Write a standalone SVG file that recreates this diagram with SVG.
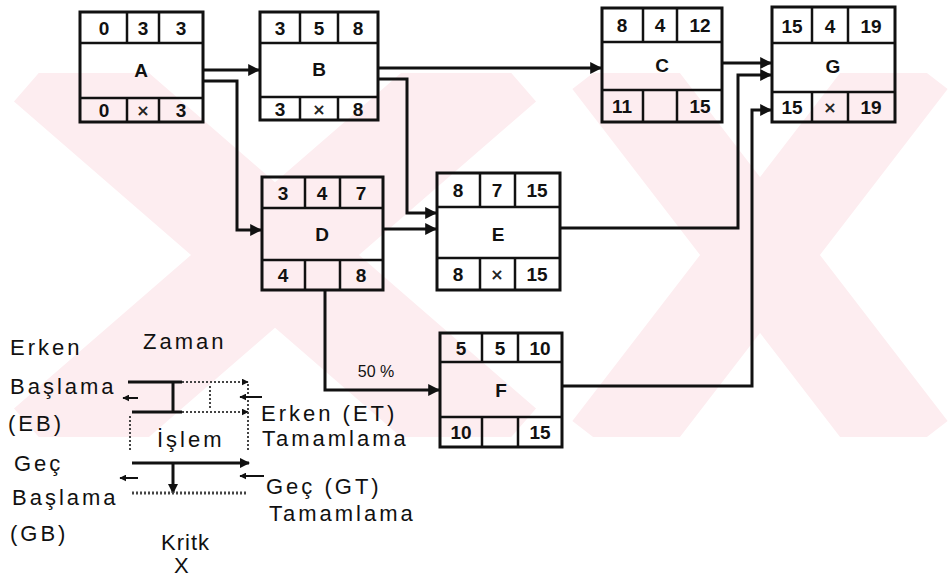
<svg xmlns="http://www.w3.org/2000/svg" width="952" height="579" viewBox="0 0 952 579">
<style>
.box{fill:none;stroke:#111;stroke-width:3}
.div{stroke:#111;stroke-width:2.5}
.num{font-family:"Liberation Sans",Arial,sans-serif;font-weight:bold;font-size:19px;fill:#111;text-anchor:middle}
.lbl{font-family:"Liberation Sans",Arial,sans-serif;font-weight:bold;font-size:19px;fill:#111;text-anchor:middle}
.crit{font-family:"DejaVu Sans",sans-serif;font-weight:bold;font-size:16px;fill:#222;text-anchor:middle}
.conn{fill:none;stroke:#111;stroke-width:3}
.leg{font-family:"Liberation Sans",Arial,sans-serif;font-size:22px;fill:#111;letter-spacing:3px}
.ln{stroke:#111;stroke-width:3;fill:none}
.dl{stroke:#444;stroke-width:2;stroke-dasharray:2 2;fill:none}
.wm{stroke:#fdedf0;fill:none}
</style>
<defs>
<marker id="ar" viewBox="0 0 10 10" refX="9" refY="5" markerWidth="4" markerHeight="4" orient="auto-start-reverse"><path d="M0,0 L10,5 L0,10 z" fill="#111"/></marker>
<marker id="sa" viewBox="0 0 10 10" refX="9" refY="5" markerWidth="3.5" markerHeight="3.5" orient="auto"><path d="M0,0 L10,5 L0,10 z" fill="#111"/></marker>
<clipPath id="band"><rect x="0" y="73" width="952" height="364"/></clipPath>
</defs>
<rect width="952" height="579" fill="#fff"/>
<g id="watermark" clip-path="url(#band)">
<path class="wm" stroke-width="110" d="M50,60 L500,450 M500,60 L50,450"/>
<path class="wm" stroke-width="95" d="M610,60 L910,450 M910,60 L610,450"/>
</g>

<g id="connectors">
<path class="conn" marker-end="url(#ar)" d="M203,70 L259,70"/>
<path class="conn" marker-end="url(#ar)" d="M203,81 L237,81 L237,230 L261,230"/>
<path class="conn" marker-end="url(#ar)" d="M378,68 L601,68"/>
<path class="conn" marker-end="url(#ar)" d="M378,79 L407,79 L407,213 L436,213"/>
<path class="conn" marker-end="url(#ar)" d="M383,229 L436,229"/>
<path class="conn" marker-end="url(#ar)" d="M722,63 L771,63"/>
<path class="conn" marker-end="url(#ar)" d="M560,228 L738,228 L738,75 L771,75"/>
<path class="conn" marker-end="url(#ar)" d="M562,386 L752,386 L752,110 L771,110"/>
<path class="conn" marker-end="url(#ar)" d="M325,290 L325,390 L439,390"/>
<text x="376" y="377" class="num" style="font-size:16px;font-weight:normal">50 %</text>
</g>

<g id="node-A">
<rect class="box" x="80" y="12" width="123" height="110"/>
<line class="div" x1="80" y1="43" x2="203" y2="43"/><line class="div" x1="80" y1="98" x2="203" y2="98"/>
<line class="div" x1="127" y1="12" x2="127" y2="43"/><line class="div" x1="159" y1="12" x2="159" y2="43"/>
<line class="div" x1="127" y1="98" x2="127" y2="122"/><line class="div" x1="159" y1="98" x2="159" y2="122"/>
<text class="num" x="104" y="35">0</text><text class="num" x="143" y="35">3</text><text class="num" x="181" y="35">3</text>
<text class="lbl" x="141" y="77">A</text>
<text class="num" x="104" y="117">0</text><text class="crit" x="143" y="116">×</text><text class="num" x="181" y="117">3</text>
</g>

<g id="node-B">
<rect class="box" x="260" y="12" width="118" height="108"/>
<line class="div" x1="260" y1="43" x2="378" y2="43"/><line class="div" x1="260" y1="97" x2="378" y2="97"/>
<line class="div" x1="300" y1="12" x2="300" y2="43"/><line class="div" x1="338" y1="12" x2="338" y2="43"/>
<line class="div" x1="300" y1="97" x2="300" y2="120"/><line class="div" x1="338" y1="97" x2="338" y2="120"/>
<text class="num" x="280" y="35">3</text><text class="num" x="319" y="35">5</text><text class="num" x="358" y="35">8</text>
<text class="lbl" x="319" y="76">B</text>
<text class="num" x="280" y="116">3</text><text class="crit" x="319" y="115">×</text><text class="num" x="358" y="116">8</text>
</g>

<g id="node-C">
<rect class="box" x="602" y="8" width="120" height="114"/>
<line class="div" x1="602" y1="42" x2="722" y2="42"/><line class="div" x1="602" y1="90" x2="722" y2="90"/>
<line class="div" x1="643" y1="8" x2="643" y2="42"/><line class="div" x1="677" y1="8" x2="677" y2="42"/>
<line class="div" x1="643" y1="90" x2="643" y2="122"/><line class="div" x1="677" y1="90" x2="677" y2="122"/>
<text class="num" x="622" y="32">8</text><text class="num" x="660" y="32">4</text><text class="num" x="700" y="32">12</text>
<text class="lbl" x="662" y="72">C</text>
<text class="num" x="622" y="113">11</text><text class="num" x="700" y="113">15</text>
</g>

<g id="node-G">
<rect class="box" x="772" y="7" width="123" height="115"/>
<line class="div" x1="772" y1="43" x2="895" y2="43"/><line class="div" x1="772" y1="92" x2="895" y2="92"/>
<line class="div" x1="812" y1="7" x2="812" y2="43"/><line class="div" x1="848" y1="7" x2="848" y2="43"/>
<line class="div" x1="812" y1="92" x2="812" y2="122"/><line class="div" x1="848" y1="92" x2="848" y2="122"/>
<text class="num" x="792" y="33">15</text><text class="num" x="830" y="33">4</text><text class="num" x="871" y="33">19</text>
<text class="lbl" x="833" y="73">G</text>
<text class="num" x="792" y="114">15</text><text class="crit" x="830" y="113">×</text><text class="num" x="871" y="114">19</text>
</g>

<g id="node-D">
<rect class="box" x="262" y="177" width="121" height="113"/>
<line class="div" x1="262" y1="208" x2="383" y2="208"/><line class="div" x1="262" y1="260" x2="383" y2="260"/>
<line class="div" x1="305" y1="177" x2="305" y2="208"/><line class="div" x1="340" y1="177" x2="340" y2="208"/>
<line class="div" x1="305" y1="260" x2="305" y2="290"/><line class="div" x1="340" y1="260" x2="340" y2="290"/>
<text class="num" x="283" y="200">3</text><text class="num" x="322" y="200">4</text><text class="num" x="361" y="200">7</text>
<text class="lbl" x="322" y="241">D</text>
<text class="num" x="283" y="282">4</text><text class="num" x="361" y="282">8</text>
</g>

<g id="node-E">
<rect class="box" x="437" y="173" width="123" height="117"/>
<line class="div" x1="437" y1="207" x2="560" y2="207"/><line class="div" x1="437" y1="258" x2="560" y2="258"/>
<line class="div" x1="480" y1="173" x2="480" y2="207"/><line class="div" x1="515" y1="173" x2="515" y2="207"/>
<line class="div" x1="480" y1="258" x2="480" y2="290"/><line class="div" x1="515" y1="258" x2="515" y2="290"/>
<text class="num" x="458" y="197">8</text><text class="num" x="497" y="197">7</text><text class="num" x="537" y="197">15</text>
<text class="lbl" x="498" y="241">E</text>
<text class="num" x="458" y="281">8</text><text class="crit" x="497" y="280">×</text><text class="num" x="537" y="281">15</text>
</g>

<g id="node-F">
<rect class="box" x="440" y="333" width="122" height="114"/>
<line class="div" x1="440" y1="362" x2="562" y2="362"/><line class="div" x1="440" y1="417" x2="562" y2="417"/>
<line class="div" x1="482" y1="333" x2="482" y2="362"/><line class="div" x1="518" y1="333" x2="518" y2="362"/>
<line class="div" x1="482" y1="417" x2="482" y2="447"/><line class="div" x1="518" y1="417" x2="518" y2="447"/>
<text class="num" x="461" y="355">5</text><text class="num" x="500" y="355">5</text><text class="num" x="540" y="355">10</text>
<text class="lbl" x="501" y="397">F</text>
<text class="num" x="461" y="439">10</text><text class="num" x="540" y="439">15</text>
</g>

<g id="legend">
<text class="leg" x="10" y="355">Erken</text>
<text class="leg" x="143" y="349">Zaman</text>
<text class="leg" x="10" y="394">Başlama</text>
<text class="leg" x="8" y="431">(EB)</text>
<text class="leg" x="157" y="447">İşlem</text>
<text class="leg" x="14" y="471">Geç</text>
<text class="leg" x="12" y="505">Başlama</text>
<text class="leg" x="10" y="541">(GB)</text>
<text class="leg" x="161" y="550" style="letter-spacing:1px">Kritk</text>
<text class="leg" x="174" y="573">X</text>
<text class="leg" x="261" y="421">Erken (ET)</text>
<text class="leg" x="262" y="446">Tamamlama</text>
<text class="leg" x="266" y="494">Geç (GT)</text>
<text class="leg" x="269" y="521">Tamamlama</text>
<line class="ln" x1="128" y1="382" x2="182" y2="382"/>
<line class="dl" x1="182" y1="382" x2="248" y2="382" marker-end="url(#sa)"/>
<line class="ln" x1="173" y1="382" x2="173" y2="412"/>
<line class="ln" x1="132" y1="412" x2="182" y2="412"/>
<line class="dl" x1="182" y1="412" x2="248" y2="412" marker-end="url(#sa)"/>
<line class="dl" x1="210" y1="386" x2="210" y2="408"/>
<line class="dl" x1="130" y1="416" x2="130" y2="452"/>
<line class="dl" x1="248" y1="384" x2="248" y2="452"/>
<line class="ln" x1="132" y1="463" x2="249" y2="463" marker-end="url(#sa)"/>
<line class="ln" x1="173" y1="463" x2="173" y2="493" marker-end="url(#sa)"/>
<line class="dl" x1="132" y1="493" x2="248" y2="493" style="stroke-width:3"/>
<line class="ln" x1="138" y1="398" x2="123" y2="398" style="stroke-width:2" marker-end="url(#sa)"/>
<line class="ln" x1="262" y1="397" x2="240" y2="397" style="stroke-width:2" marker-end="url(#sa)"/>
<line class="ln" x1="138" y1="478" x2="120" y2="478" style="stroke-width:2" marker-end="url(#sa)"/>
<line class="ln" x1="264" y1="476" x2="240" y2="476" style="stroke-width:2" marker-end="url(#sa)"/>
</g>
</svg>
